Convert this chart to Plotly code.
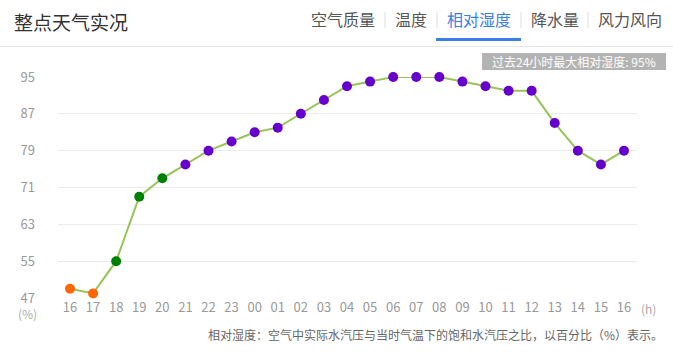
import plotly.graph_objects as go

hours = ["16", "17", "18", "19", "20", "21", "22", "23", "00", "01", "02", "03", "04",
         "05", "06", "07", "08", "09", "10", "11", "12", "13", "14", "15", "16"]
humidity = [49, 48, 55, 69, 73, 76, 79, 81, 83, 84, 87, 90, 93,
            94, 95, 95, 95, 94, 93, 92, 92, 85, 79, 76, 79]
y_ticks = [47, 55, 63, 71, 79, 87, 95]
tabs = ["空气质量", "温度", "相对湿度", "降水量", "风力风向"]


def point_color(v):
    if v < 50:
        return "#ff6600"
    if v < 75:
        return "#008000"
    return "#6600cc"


W, H = 673, 352
L, R, T, B = 58, 637, 77, 298
FONT = "Noto Sans CJK SC, Microsoft YaHei, sans-serif"


def px(x):
    return (x - L) / (R - L)


def py(y):
    return (B - y) / (B - T)


xs = list(range(len(hours)))
fig = go.Figure()
fig.add_trace(go.Scatter(
    x=xs, y=humidity, mode="lines+markers",
    line=dict(color="#99c45a", width=2),
    marker=dict(size=10, color=[point_color(v) for v in humidity], line=dict(width=0)),
    cliponaxis=False, hoverinfo="skip", showlegend=False,
))

annotations = []
shapes = []
# Title
annotations.append(dict(x=px(12), y=py(21), xref="paper", yref="paper", text="整点天气实况",
                        showarrow=False, xanchor="left", yanchor="middle",
                        font=dict(family=FONT, size=19, color="#333333")))
# Tabs
tab_x = [311, 395, 446, 531, 598]
tab_w = [64, 32, 65, 47, 63]
for i, (t, x0, w) in enumerate(zip(tabs, tab_x, tab_w)):
    annotations.append(dict(x=px(x0 + w / 2), y=py(19), xref="paper", yref="paper", text=t,
                            showarrow=False, xanchor="center", yanchor="middle",
                            font=dict(family=FONT, size=16,
                                      color="#3c7ee8" if i == 2 else "#555555")))
for sx in [385, 437, 521, 588]:
    shapes.append(dict(type="line", xref="paper", yref="paper", x0=px(sx), x1=px(sx),
                       y0=py(12), y1=py(28), line=dict(color="#dddddd", width=1)))
# underline
shapes.append(dict(type="rect", xref="paper", yref="paper", x0=px(436), x1=px(521),
                   y0=py(41), y1=py(38), fillcolor="#3c7ee8", line=dict(width=0)))
# header bottom line
shapes.append(dict(type="line", xref="paper", yref="paper", x0=px(0), x1=px(673),
                   y0=py(46.5), y1=py(46.5), line=dict(color="#e8e8e8", width=1)))
# badge
shapes.append(dict(type="rect", xref="paper", yref="paper", x0=px(482), x1=px(666),
                   y0=py(70), y1=py(53), fillcolor="#b3b3b3", line=dict(width=0),
                   layer="below"))
annotations.append(dict(x=px(574), y=py(61.5), xref="paper", yref="paper",
                        text="过去24小时最大相对湿度: 95%", showarrow=False,
                        xanchor="center", yanchor="middle",
                        font=dict(family=FONT, size=12, color="#ffffff")))
# units
annotations.append(dict(x=px(27), y=py(313), xref="paper", yref="paper", text="(%)",
                        showarrow=False, xanchor="center", yanchor="middle",
                        font=dict(family=FONT, size=12, color="#aaaaaa")))
annotations.append(dict(x=px(648), y=py(308), xref="paper", yref="paper", text="(h)",
                        showarrow=False, xanchor="center", yanchor="middle",
                        font=dict(family=FONT, size=12, color="#aaaaaa")))
# footer
annotations.append(dict(x=px(665), y=py(334), xref="paper", yref="paper",
                        text="相对湿度：空气中实际水汽压与当时气温下的饱和水汽压之比，以百分比（%）表示。",
                        showarrow=False, xanchor="right", yanchor="middle",
                        font=dict(family=FONT, size=12, color="#666666")))

fig.update_layout(
    width=W, height=H,
    margin=dict(l=L, r=W - R, t=T, b=H - B, pad=0),
    paper_bgcolor="white", plot_bgcolor="white",
    font=dict(family=FONT, size=13, color="#999999"),
    xaxis=dict(tickmode="array", tickvals=xs, ticktext=hours,
               range=[-12 / 23.08, 24 + 13 / 23.08], showgrid=False, zeroline=False,
               showline=False, ticks="", tickfont=dict(size=13, color="#999999"),
               fixedrange=True),
    yaxis=dict(tickmode="array", tickvals=y_ticks, range=[47, 95], showgrid=True,
               gridcolor="#ebebeb", gridwidth=1, zeroline=False, showline=False, ticks="",
               ticklabelstandoff=22, tickfont=dict(size=13, color="#999999"),
               fixedrange=True),
    annotations=annotations, shapes=shapes,
)

fig.write_html("out.html", config={"displayModeBar": False})
